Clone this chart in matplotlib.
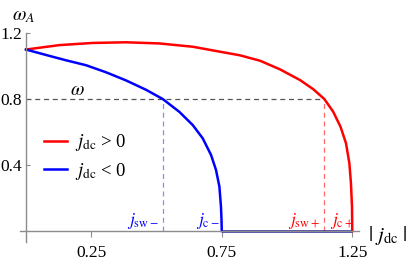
import matplotlib
matplotlib.use("Agg")
import matplotlib.pyplot as plt

plt.rcParams['font.family'] = ['Liberation Serif', 'DejaVu Serif']
plt.rcParams['mathtext.fontset'] = 'stix'

# values
# j_dc < 0 branch (blue)
blue_j = [0, 0.077, 0.153, 0.23, 0.307, 0.383, 0.46, 0.524, 0.587, 0.639, 0.677,
          0.709, 0.728, 0.741, 0.747, 0.749, 0.75]
blue_w = [1.1, 1.067, 1.035, 1.005, 0.962, 0.913, 0.856, 0.8, 0.723, 0.642, 0.562,
          0.461, 0.37, 0.269, 0.147, 0.07, 0]
# zero branch along the axis
flat_j = [0.75, 1.25]
flat_w = [0, 0]
# j_dc > 0 branch (red)
red_j = [0, 0.128, 0.255, 0.383, 0.511, 0.639, 0.743, 0.82, 0.897, 0.973, 1.05, 1.101,
         1.143, 1.177, 1.205, 1.226, 1.239, 1.245, 1.249, 1.25]
red_w = [1.1, 1.127, 1.14, 1.144, 1.137, 1.117, 1.087, 1.065, 1.032, 0.98, 0.915, 0.859,
         0.8, 0.723, 0.632, 0.532, 0.41, 0.289, 0.147, 0]

omega = 0.8
j_sw_minus = 0.524
j_sw_plus = 1.143

xticks = [0.25, 0.75, 1.25]
yticks = [0.4, 0.8, 1.2]

fig = plt.figure(figsize=(4.15, 2.67), dpi=100)
ax = fig.add_axes([0.0312, 0.073, 0.9434, 0.865])
ax.set_xlim(-0.05, 1.45)
ax.set_ylim(-0.1, 1.3)

axcol = '#8c8c8c'
for s in ['top', 'right']:
    ax.spines[s].set_visible(False)
ax.spines['left'].set_position(('data', 0))
ax.spines['bottom'].set_position(('data', 0))
ax.spines['left'].set_bounds(-0.067, 1.2)
ax.spines['bottom'].set_bounds(-0.023, 1.276)
ax.spines['left'].set_color(axcol)
ax.spines['bottom'].set_color(axcol)
ax.spines['left'].set_linewidth(1.0)
ax.spines['bottom'].set_linewidth(1.0)

ax.set_xticks(xticks)
ax.set_xticklabels([f'{t:g}' for t in xticks])
ax.set_yticks(yticks)
ax.set_yticklabels([f'{t:g}' for t in yticks])
ax.tick_params(axis='x', direction='out', length=4, color=axcol, labelsize=12.5, pad=6)
ax.tick_params(axis='y', direction='in', length=3, color=axcol, labelsize=12.5, pad=3)

# guide lines
ax.plot([0, j_sw_plus], [omega, omega], color='#555555', lw=0.9, dashes=(4, 3))
ax.plot([j_sw_minus, j_sw_minus], [0, omega], color='#8a8aff', lw=0.9, dashes=(4, 3))
ax.plot([j_sw_plus, j_sw_plus], [0, omega], color='#ff6a6a', lw=0.9, dashes=(4, 3))

# curves
ax.plot(flat_j, flat_w, color='#1a1a9a', lw=1.8, solid_capstyle='butt')
ax.plot(red_j, red_w, color='#ff0000', lw=1.8, label=r'$j_{\rm dc}$ > 0')
ax.plot(blue_j, blue_w, color='#0000ff', lw=1.8, label=r'$j_{\rm dc}$ < 0')

ax.legend(loc='upper left', bbox_to_anchor=(0.106, 0.505), bbox_transform=fig.transFigure,
          frameon=False, fontsize=13.5, handlelength=1.25, handletextpad=0.4,
          labelspacing=0.4, borderpad=0, borderaxespad=0)

# annotations
ax.text(-0.008, 1.30, r'$\omega_A$', fontsize=14, ha='center', va='center', clip_on=False)
ax.text(0.195, 0.85, r'$\omega$', fontsize=14, ha='center', va='center')
ax.text(0.51, 0.06, r'$j_{\rm sw-}$', color='#0000ff', fontsize=12.5, ha='right', va='center')
ax.text(0.74, 0.06, r'$j_{\rm c-}$', color='#0000ff', fontsize=12.5, ha='right', va='center')
ax.text(1.126, 0.06, r'$j_{\rm sw+}$', color='#ff0000', fontsize=12.5, ha='right', va='center')
ax.text(1.166, 0.06, r'$j_{\rm c+}$', color='#ff0000', fontsize=12.5, ha='left', va='center')
ax.text(1.31, -0.03, r'$|\ j_{\rm dc}\ |$', fontsize=15, ha='left', va='center')

fig.savefig('out.png', dpi=100)
